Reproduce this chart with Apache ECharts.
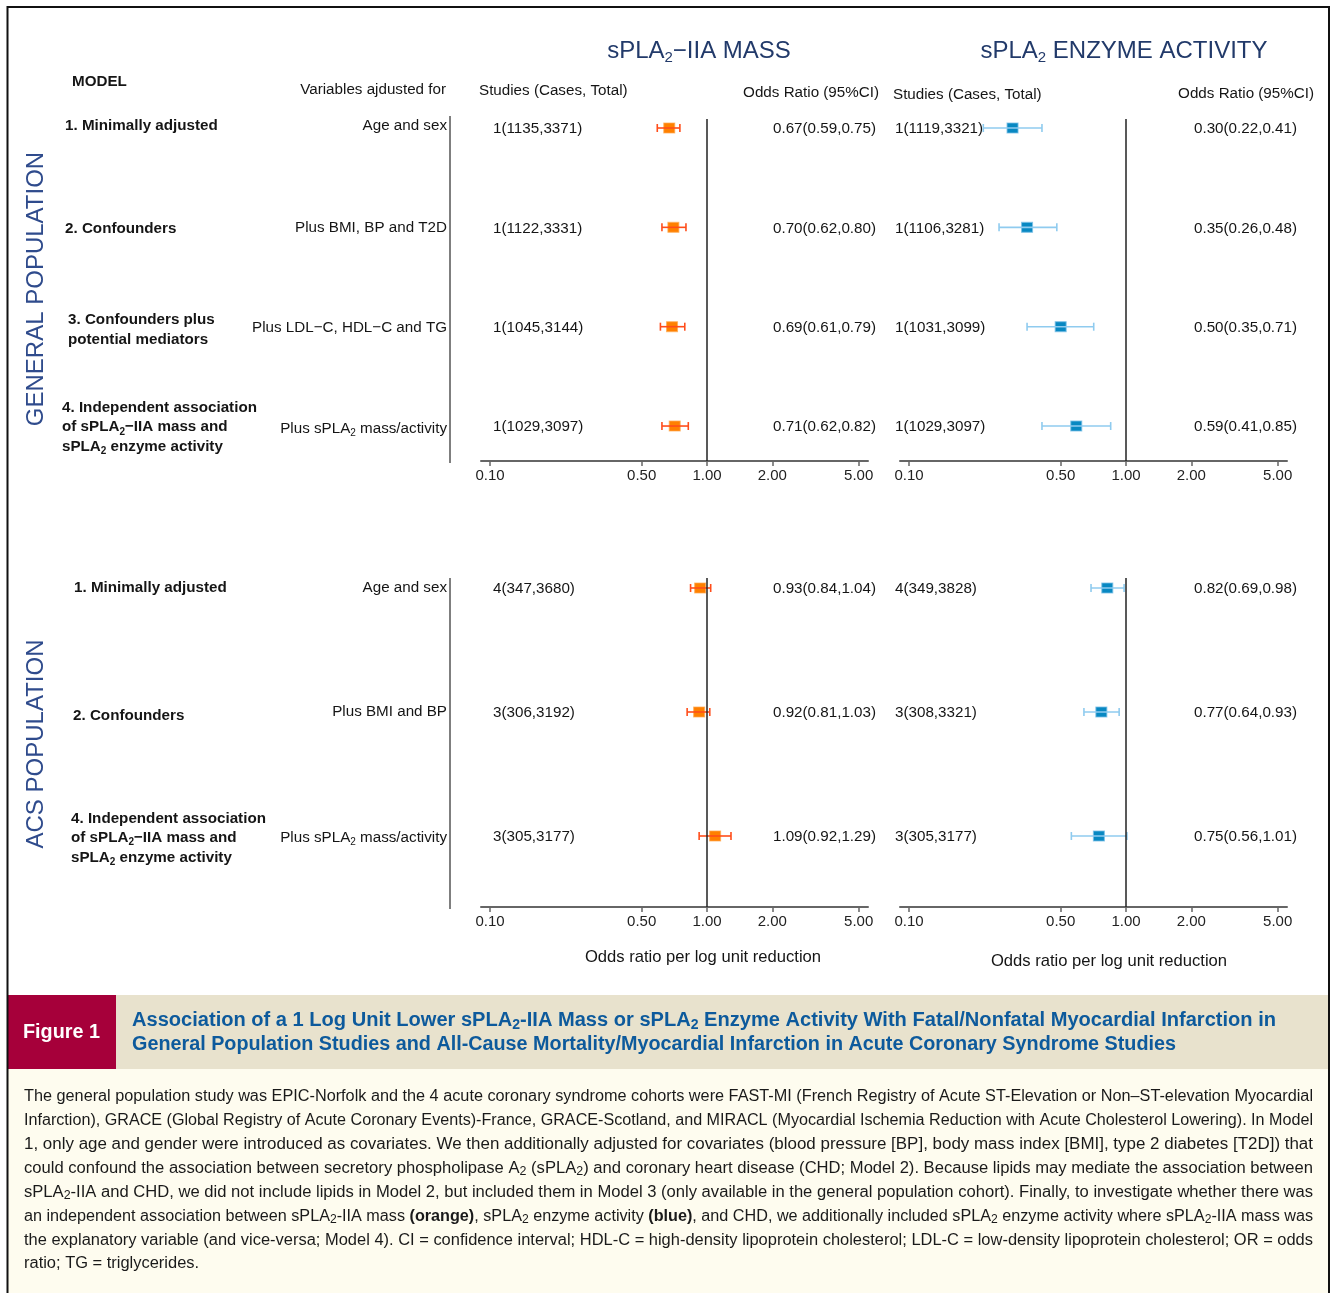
<!DOCTYPE html>
<html><head><meta charset="utf-8">
<script src="https://cdn.jsdelivr.net/npm/echarts@6/dist/echarts.min.js"></script>
<style>html,body{margin:0;padding:0;background:#fff}#c{width:1334px;height:1293px}</style>
</head><body><div id="c"></div>
<script>
// ---------------- DATA ----------------
const panelTitles = ['sPLA{s|2}\u2212IIA MASS', 'sPLA{s|2} ENZYME ACTIVITY'];
const populations = ['GENERAL POPULATION', 'ACS POPULATION'];
const columnHeaders = ['MODEL', 'Variables ajdusted for', 'Studies (Cases, Total)', 'Odds Ratio (95%CI)'];
const axisTitle = 'Odds ratio per log unit reduction';
const xTicks = [0.10, 0.50, 1.00, 2.00, 5.00];

const genModels = ['1. Minimally adjusted', '2. Confounders', '3. Confounders plus\npotential mediators',
  '4. Independent association\nof sPLA{s|2}\u2212IIA mass and\nsPLA{s|2} enzyme activity'];
const genVariables = ['Age and sex', 'Plus BMI, BP and T2D', 'Plus LDL\u2212C, HDL\u2212C and TG', 'Plus sPLA{s|2} mass/activity'];
const genMassStudies = ['1(1135,3371)', '1(1122,3331)', '1(1045,3144)', '1(1029,3097)'];
const genMassOR = [0.67, 0.70, 0.69, 0.71];
const genMassLo = [0.59, 0.62, 0.61, 0.62];
const genMassHi = [0.75, 0.80, 0.79, 0.82];
const genActStudies = ['1(1119,3321)', '1(1106,3281)', '1(1031,3099)', '1(1029,3097)'];
const genActOR = [0.30, 0.35, 0.50, 0.59];
const genActLo = [0.22, 0.26, 0.35, 0.41];
const genActHi = [0.41, 0.48, 0.71, 0.85];

const acsModels = ['1. Minimally adjusted', '2. Confounders',
  '4. Independent association\nof sPLA{s|2}\u2212IIA mass and\nsPLA{s|2} enzyme activity'];
const acsVariables = ['Age and sex', 'Plus BMI and BP', 'Plus sPLA{s|2} mass/activity'];
const acsMassStudies = ['4(347,3680)', '3(306,3192)', '3(305,3177)'];
const acsMassOR = [0.93, 0.92, 1.09];
const acsMassLo = [0.84, 0.81, 0.92];
const acsMassHi = [1.04, 1.03, 1.29];
const acsActStudies = ['4(349,3828)', '3(308,3321)', '3(305,3177)'];
const acsActOR = [0.82, 0.77, 0.75];
const acsActLo = [0.69, 0.64, 0.56];
const acsActHi = [0.98, 0.93, 1.01];

const figureLabel = 'Figure 1';
const captionTitle = [
  'Association of a 1 Log Unit Lower sPLA{s|2}-IIA Mass or sPLA{s|2} Enzyme Activity With Fatal/Nonfatal Myocardial Infarction in',
  'General Population Studies and All-Cause Mortality/Myocardial Infarction in Acute Coronary Syndrome Studies'
];
const captionBody = [
  'The general population study was EPIC-Norfolk and the 4 acute coronary syndrome cohorts were FAST-MI (French Registry of Acute ST-Elevation or Non\u2013ST-elevation Myocardial',
  'Infarction), GRACE (Global Registry of Acute Coronary Events)-France, GRACE-Scotland, and MIRACL (Myocardial Ischemia Reduction with Acute Cholesterol Lowering). In Model',
  '1, only age and gender were introduced as covariates. We then additionally adjusted for covariates (blood pressure [BP], body mass index [BMI], type 2 diabetes [T2D]) that',
  'could confound the association between secretory phospholipase A{s|2} (sPLA{s|2}) and coronary heart disease (CHD; Model 2). Because lipids may mediate the association between',
  'sPLA{s|2}-IIA and CHD, we did not include lipids in Model 2, but included them in Model 3 (only available in the general population cohort). Finally, to investigate whether there was',
  'an independent association between sPLA{s|2}-IIA mass {b|(orange)}, sPLA{s|2} enzyme activity {b|(blue)}, and CHD, we additionally included sPLA{s|2} enzyme activity where sPLA{s|2}-IIA mass was',
  'the explanatory variable (and vice-versa; Model 4). CI = confidence interval; HDL-C = high-density lipoprotein cholesterol; LDL-C = low-density lipoprotein cholesterol; OR = odds',
  'ratio; TG = triglycerides.'
];

// ---------------- STYLE / LAYOUT ----------------
const FF = '"Liberation Sans", Arial, Helvetica, sans-serif';
const ORANGE = '#FF8000', ORANGE_BAR = '#FF4D1A';
const BLUE = '#0888C2', BLUE_BAR = '#8FCBEF';
const TXT = '#151515';
const NAVY = '#223A6A';
const POPBLUE = '#2F4B8C';
const XMIN = -1.0415, XMAX = 0.742;
const BASE = 15.2;

const grids = [
  {left: 481, top: 119, width: 387, height: 342},
  {left: 900, top: 119, width: 387, height: 342},
  {left: 481, top: 578, width: 387, height: 329},
  {left: 900, top: 578, width: 387, height: 329}
];
const yRanges = [[-0.0906, 3.352], [-0.0906, 3.352], [-0.0806, 2.5726], [-0.0806, 2.5726]];

const lg = v => Math.log10(v);

const chart = echarts.init(document.getElementById('c'), null, {renderer: 'canvas'});

function xAxisFor(g) {
  const tv = xTicks.map(lg);
  return {
    type: 'value', gridIndex: g, min: XMIN, max: XMAX, position: 'bottom',
    axisLine: {show: true, onZero: false, lineStyle: {color: '#666', width: 2}},
    axisTick: {show: true, length: 5, customValues: tv, lineStyle: {color: '#666', width: 1.5}},
    axisLabel: {customValues: tv, formatter: v => Math.pow(10, v).toFixed(2), color: '#222',
      fontSize: 15, fontFamily: FF, margin: 7},
    splitLine: {show: false}
  };
}
function yAxisFor(g) {
  return {type: 'value', gridIndex: g, inverse: true, min: yRanges[g][0], max: yRanges[g][1], show: false};
}
function errRender(color) {
  return function (params, api) {
    const a = api.coord([api.value(0), api.value(2)]);
    const b = api.coord([api.value(1), api.value(2)]);
    const h = 4;
    const st = {stroke: color, lineWidth: 1.6};
    return {type: 'group', children: [
      {type: 'line', shape: {x1: a[0], y1: a[1], x2: b[0], y2: b[1]}, style: st},
      {type: 'line', shape: {x1: a[0], y1: a[1] - h, x2: a[0], y2: a[1] + h}, style: st},
      {type: 'line', shape: {x1: b[0], y1: b[1] - h, x2: b[0], y2: b[1] + h}, style: st}
    ]};
  };
}
function seriesFor(g, or, lo, hi, color, barColor, border) {
  return [
    {
      type: 'scatter', xAxisIndex: g, yAxisIndex: g, z: 3,
      symbol: 'rect', symbolSize: [11, 10],
      itemStyle: {color: color, borderColor: border, borderWidth: 1, opacity: 1},
      data: or.map((v, i) => [lg(v), i]),
      markLine: {silent: true, symbol: ['none', 'none'], label: {show: false},
        lineStyle: {color: '#222', width: 1.5, type: 'solid'}, data: [{xAxis: 0}]}
    },
    {
      type: 'custom', xAxisIndex: g, yAxisIndex: g, z: 4,
      renderItem: errRender(barColor),
      encode: {x: [0, 1], y: 2},
      data: lo.map((v, i) => [lg(v), lg(hi[i]), i])
    }
  ];
}

chart.setOption({
  animation: false,
  backgroundColor: '#fff',
  grid: grids,
  xAxis: [0, 1, 2, 3].map(xAxisFor),
  yAxis: [0, 1, 2, 3].map(yAxisFor),
  series: [].concat(
    seriesFor(0, genMassOR, genMassLo, genMassHi, ORANGE, ORANGE_BAR, 'rgba(255,170,80,0.7)'),
    seriesFor(1, genActOR, genActLo, genActHi, BLUE, BLUE_BAR, 'rgba(120,190,230,0.8)'),
    seriesFor(2, acsMassOR, acsMassLo, acsMassHi, ORANGE, ORANGE_BAR, 'rgba(255,170,80,0.7)'),
    seriesFor(3, acsActOR, acsActLo, acsActHi, BLUE, BLUE_BAR, 'rgba(120,190,230,0.8)')
  )
});

// ---------------- TEXT HELPERS ----------------
const cv = document.createElement('canvas').getContext('2d');
function fnt(sz, wt) { return wt + ' ' + sz + 'px ' + FF; }
function measure(text, size, weight, subSize) {
  let w = 0, last = 0, m;
  const re = /\{(\w+)\|([^}]*)\}/g;
  while ((m = re.exec(text))) {
    if (m.index > last) { cv.font = fnt(size, weight); w += cv.measureText(text.slice(last, m.index)).width; }
    cv.font = m[1] === 's' ? fnt(subSize, weight) : fnt(size, 'bold');
    w += cv.measureText(m[2]).width;
    last = re.lastIndex;
  }
  if (last < text.length) { cv.font = fnt(size, weight); w += cv.measureText(text.slice(last)).width; }
  return w;
}
function T(x, y, text, o) {
  o = o || {};
  const size = o.size || BASE, weight = o.weight || 'normal', color = o.color || TXT;
  const lh = o.lh || Math.round(size * 1.2);
  const subSize = o.subSize || Math.round(size * 0.65);
  const subLH = Math.max(4, lh - (o.drop || 0.54) * size);
  return {
    type: 'text', x: x, y: y, rotation: o.rot || 0, scaleX: o.sx || 1, silent: true, z: 100,
    style: {
      text: text, x: 0, y: 0, fill: color, fontFamily: FF, fontSize: size, fontWeight: weight,
      lineHeight: lh, align: o.align || 'left', verticalAlign: 'middle',
      rich: {
        s: {fontFamily: FF, fontSize: subSize, fontWeight: weight, fill: color, lineHeight: subLH, verticalAlign: 'bottom'},
        b: {fontFamily: FF, fontSize: size, fontWeight: 'bold', fill: color, lineHeight: lh}
      }
    }
  };
}
function fitT(x, y, text, width, o) {
  const w = measure(text, o.size, o.weight || 'normal', o.subSize || Math.round(o.size * 0.65));
  o.sx = width ? width / w : (o.sx || 1);
  return T(x, y, text, o);
}
function rowY(g, k) { return chart.convertToPixel({gridIndex: g}, [0, k])[1]; }

// ---------------- GRAPHIC ----------------
const els = [];
// frame & caption panels
els.push({type: 'rect', z: 1, silent: true, shape: {x: 8, y: 995, width: 1320, height: 74}, style: {fill: '#E8E2CD'}});
els.push({type: 'rect', z: 1, silent: true, shape: {x: 8, y: 1069, width: 1320, height: 240}, style: {fill: '#FEFCEF'}});
els.push({type: 'rect', z: 2, silent: true, shape: {x: 8, y: 995, width: 108, height: 74}, style: {fill: '#A6003A'}});
els.push({type: 'rect', z: 3, silent: true, shape: {x: 7.5, y: 7, width: 1321.5, height: 1300}, style: {fill: 'none', stroke: '#111', lineWidth: 2}});

// titles
els.push(T(699, 51, panelTitles[0], {size: 24, color: NAVY, align: 'center', subSize: 15, drop: 0.5}));
els.push(T(1124, 51, panelTitles[1], {size: 24, color: NAVY, align: 'center', subSize: 15, drop: 0.5}));
// column headers
els.push(T(72, 82, columnHeaders[0], {weight: 'bold'}));
els.push(T(446, 90, columnHeaders[1], {align: 'right'}));
els.push(T(479, 91, columnHeaders[2]));
els.push(T(879, 93, columnHeaders[3], {align: 'right'}));
els.push(T(893, 95, columnHeaders[2]));
els.push(T(1314, 94, columnHeaders[3], {align: 'right'}));

// population labels
els.push(T(36, 289, populations[0], {size: 24, color: POPBLUE, align: 'center', rot: Math.PI / 2}));
els.push(T(36, 744, populations[1], {size: 24, color: POPBLUE, align: 'center', rot: Math.PI / 2}));

// separators
[[0, 116, 463], [2, 578, 909]].forEach(function (s) {
  els.push({type: 'line', z: 5, silent: true, shape: {x1: 450, y1: s[1], x2: 450, y2: s[2]}, style: {stroke: '#555', lineWidth: 1.5}});
});

function orText(v, l, h) { return v.toFixed(2) + '(' + l.toFixed(2) + ',' + h.toFixed(2) + ')'; }

const layoutTop = {modelX: [65, 65, 68, 62], modelDy: [-2, 1, 3, 1], varDy: [-2, 0, 1, 3]};
const layoutBot = {modelX: [74, 73, 71], modelDy: [0, 4, 2], varDy: [0, 0, 2]};

function rows(gL, gR, models, vars, mS, mOR, mLo, mHi, aS, aOR, aLo, aHi, lay) {
  models.forEach(function (m, k) {
    const y = rowY(gL, k);
    els.push(T(lay.modelX[k], y + lay.modelDy[k], m, {weight: 'bold', lh: 19.5}));
    els.push(T(447, y + lay.varDy[k], vars[k], {align: 'right'}));
    els.push(T(493, y + 1, mS[k]));
    els.push(T(876, y + 1, orText(mOR[k], mLo[k], mHi[k]), {align: 'right'}));
    els.push(T(895, y + 1, aS[k]));
    els.push(T(1297, y + 1, orText(aOR[k], aLo[k], aHi[k]), {align: 'right'}));
  });
}
rows(0, 1, genModels, genVariables, genMassStudies, genMassOR, genMassLo, genMassHi,
  genActStudies, genActOR, genActLo, genActHi, layoutTop);
rows(2, 3, acsModels, acsVariables, acsMassStudies, acsMassOR, acsMassLo, acsMassHi,
  acsActStudies, acsActOR, acsActLo, acsActHi, layoutBot);

// axis titles
els.push(T(703, 957, axisTitle, {size: 16.6, align: 'center'}));
els.push(T(1109, 961, axisTitle, {size: 16.6, align: 'center'}));

// caption
els.push(fitT(23, 1032, figureLabel, 77, {size: 21, weight: 'bold', color: '#ffffff'}));
els.push(fitT(132, 1020, captionTitle[0], 1144, {size: 20, weight: 'bold', color: '#0D5A9C', subSize: 14, drop: 0.45}));
els.push(fitT(132, 1044, captionTitle[1], 1044, {size: 20, weight: 'bold', color: '#0D5A9C', subSize: 14, drop: 0.45}));
let sxs = [];
captionBody.forEach(function (line, i) {
  const y = 1097 + i * 23.86;
  if (i < captionBody.length - 1) {
    const e = fitT(24, y, line, 1289, {size: 16, color: '#1a1a1a', subSize: 12, drop: 0.45});
    sxs.push(e.scaleX);
    els.push(e);
  } else {
    const avg = sxs.reduce((a, b) => a + b, 0) / sxs.length;
    els.push(T(24, y, line, {size: 16, color: '#1a1a1a', subSize: 12, drop: 0.45, sx: avg}));
  }
});

chart.setOption({graphic: {elements: els}});
</script>
</body></html>
